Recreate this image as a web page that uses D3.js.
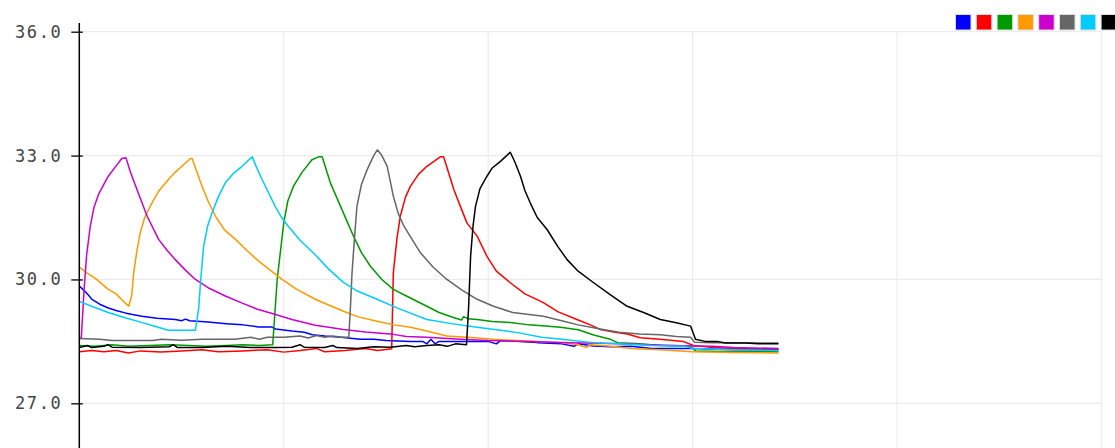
<!DOCTYPE html>
<html lang="en">

<head>
    <meta charset="UTF-8">
    <title>Temperature</title>
    <script src="https://d3js.org/d3.v7.min.js"></script>
    <style>
        body { margin: 0; background: #fff; }
        svg { display: block; }
    </style>
</head>

<body>
    <script>
        // tick labels on the y axis
        var yTicks = [27, 30, 33, 36];
        var xTicks = [0, 50, 100, 150, 200, 250];

        var seriesNames = ["1", "2", "3", "4", "5", "6", "7", "8"];
        var seriesColors = ["#0000ff", "#ff0000", "#009900", "#ff9900", "#cc00cc", "#666666", "#00ccff", "#000000"];

        // [time, temperature]
        var blue = [[0, 29.84], [1.5, 29.7], [3.1, 29.52], [5, 29.4], [7.1, 29.31], [9, 29.25], [11.2, 29.19], [13, 29.15], [15.3, 29.11], [19, 29.06], [23.5, 29.03], [25, 29.0], [26, 29.04], [27, 29.0], [31.5, 28.97], [36, 28.93], [40, 28.9], [43.8, 28.85], [47, 28.85], [48, 28.8], [52, 28.75], [55, 28.72], [57, 28.66], [60, 28.63], [64, 28.6], [68.7, 28.55], [72, 28.55], [75, 28.52], [81, 28.5], [84, 28.5], [85, 28.44], [86, 28.55], [87, 28.44], [88, 28.5], [93.2, 28.5], [100, 28.5], [102, 28.44], [103, 28.52], [107.9, 28.5], [112, 28.47], [118, 28.44], [121, 28.38], [122, 28.44], [125.7, 28.39], [130, 28.37], [135, 28.38], [140, 28.33], [150.2, 28.33], [160, 28.3], [171, 28.3]];
        var red = [[0, 28.25], [3, 28.28], [6, 28.25], [9, 28.28], [12, 28.22], [15, 28.27], [20, 28.24], [25, 28.27], [30, 28.3], [34, 28.25], [40, 28.27], [46, 28.3], [50, 28.24], [54, 28.28], [58, 28.33], [60, 28.25], [65, 28.28], [70, 28.33], [73, 28.28], [76.4, 28.32], [76.8, 30.16], [77.7, 31.0], [78.5, 31.53], [79.8, 32.0], [81, 32.26], [83, 32.55], [85, 32.74], [88.3, 32.97], [89.1, 32.97], [91.6, 32.18], [93.2, 31.77], [94.8, 31.37], [97.3, 31.05], [99.7, 30.56], [102, 30.2], [105.4, 29.92], [109, 29.65], [113.5, 29.44], [117, 29.22], [121.7, 29.03], [125, 28.9], [127.4, 28.79], [131, 28.72], [134, 28.68], [137.2, 28.59], [142, 28.55], [147.7, 28.5], [150.2, 28.4], [155, 28.35], [160, 28.33], [171, 28.32]];
        var green = [[0, 28.4], [4, 28.38], [8, 28.42], [12, 28.38], [17, 28.4], [22, 28.42], [27, 28.4], [31, 28.38], [36, 28.4], [40, 28.42], [44, 28.4], [47.3, 28.42], [48.4, 30.0], [50, 31.37], [51, 31.9], [52.4, 32.26], [54.5, 32.6], [56.9, 32.9], [58.5, 32.97], [59.4, 32.97], [61.4, 32.34], [63.9, 31.77], [65.5, 31.4], [67.1, 31.04], [69, 30.65], [71.2, 30.32], [74, 30.0], [76.8, 29.76], [80, 29.6], [85, 29.35], [88, 29.2], [91.5, 29.08], [93.5, 29.02], [94, 29.1], [95, 29.05], [97.3, 29.03], [101, 28.98], [105.4, 28.96], [110, 28.9], [114, 28.87], [117.7, 28.84], [122, 28.78], [126, 28.65], [129.9, 28.55], [131.6, 28.47], [136, 28.45], [142.1, 28.4], [149.5, 28.38], [150.7, 28.27], [160, 28.25], [171, 28.25]];
        var orange = [[0, 30.3], [2, 30.15], [4, 30.02], [7.1, 29.76], [9, 29.65], [11, 29.45], [12.1, 29.35], [12.8, 29.6], [13.3, 30.16], [14.1, 30.7], [14.9, 31.13], [16, 31.5], [17.8, 31.86], [19.5, 32.15], [21.8, 32.42], [23.5, 32.6], [25.1, 32.74], [27.2, 32.93], [27.6, 32.93], [30, 32.26], [31.5, 31.9], [33.3, 31.53], [35.5, 31.2], [38.2, 30.97], [41, 30.7], [43.8, 30.45], [47, 30.2], [49.6, 30.0], [53, 29.77], [57.7, 29.52], [61, 29.38], [64.6, 29.23], [68, 29.1], [72.8, 28.99], [77, 28.9], [81, 28.84], [85, 28.75], [89.9, 28.63], [95, 28.6], [101.3, 28.55], [107, 28.52], [112, 28.5], [117.7, 28.47], [122, 28.42], [124, 28.35], [125, 28.42], [130, 28.38], [135, 28.33], [142.1, 28.3], [150, 28.25], [160, 28.23], [171, 28.22]];
        var magenta = [[0, 28.55], [0.5, 28.6], [1.2, 29.8], [1.8, 30.6], [2.7, 31.3], [3.6, 31.75], [4.7, 32.06], [6, 32.3], [7.1, 32.5], [9, 32.75], [10.4, 32.93], [11.4, 32.95], [12.5, 32.6], [14.4, 32.1], [16.6, 31.53], [19.4, 30.97], [21.5, 30.7], [23.5, 30.48], [26, 30.22], [28.4, 30.0], [31.5, 29.8], [35.7, 29.6], [40, 29.42], [43.8, 29.27], [48, 29.15], [52, 29.03], [57.7, 28.89], [61, 28.84], [64.6, 28.79], [70, 28.73], [76.8, 28.67], [80, 28.62], [85, 28.6], [93.2, 28.55], [100, 28.52], [110, 28.5], [120, 28.47], [130, 28.45], [140, 28.42], [149.5, 28.39], [155, 28.38], [160, 28.35], [171, 28.33]];
        var gray = [[0, 28.57], [5, 28.55], [8, 28.52], [12, 28.52], [18, 28.52], [20, 28.55], [25, 28.53], [30, 28.55], [38, 28.55], [42, 28.6], [44, 28.55], [46, 28.6], [50, 28.6], [54, 28.63], [56, 28.58], [58, 28.64], [60, 28.6], [62, 28.63], [64, 28.6], [65.9, 28.6], [66.3, 29.3], [66.7, 30.16], [67.3, 31.0], [67.9, 31.77], [69, 32.3], [70.4, 32.66], [72, 33.0], [72.9, 33.14], [74, 33.0], [75.3, 32.74], [76.8, 32.02], [78, 31.6], [79.4, 31.29], [81.5, 30.95], [83.4, 30.65], [86.5, 30.3], [89.9, 30.0], [93.5, 29.75], [97.3, 29.52], [101.3, 29.35], [106, 29.2], [110, 29.15], [113.5, 29.11], [118, 29.0], [122, 28.9], [127.4, 28.8], [132, 28.72], [137, 28.68], [142.1, 28.66], [146, 28.62], [149.5, 28.6], [150.5, 28.48], [155, 28.47], [160, 28.47], [171, 28.46]];
        var cyan = [[0, 29.47], [3, 29.35], [7.1, 29.2], [11, 29.08], [15.2, 28.96], [18, 28.88], [21.8, 28.77], [25, 28.77], [28.4, 28.77], [29.2, 29.3], [29.7, 30.0], [30.4, 30.8], [31.4, 31.3], [32.5, 31.62], [34, 32.0], [35.7, 32.34], [37.5, 32.55], [39.8, 32.74], [41.5, 32.9], [42.3, 32.97], [43.2, 32.75], [44.7, 32.42], [46.3, 32.1], [47.9, 31.77], [49.5, 31.5], [51.1, 31.29], [54, 30.95], [57.7, 30.6], [61, 30.25], [64.6, 29.93], [68, 29.72], [72.8, 29.52], [78, 29.3], [85, 29.03], [91, 28.93], [97.3, 28.84], [103, 28.77], [107.9, 28.7], [113, 28.6], [118, 28.55], [125.7, 28.47], [132, 28.44], [140, 28.4], [148, 28.38], [150.2, 28.33], [160, 28.3], [171, 28.28]];
        var black = [[0, 28.35], [2, 28.4], [3, 28.35], [6, 28.38], [7, 28.42], [8, 28.36], [15, 28.35], [22, 28.37], [23, 28.42], [24, 28.35], [30, 28.35], [36, 28.38], [42, 28.35], [48, 28.35], [52, 28.36], [54, 28.42], [55, 28.36], [60, 28.35], [62, 28.4], [63, 28.35], [68, 28.33], [72, 28.37], [76, 28.36], [80, 28.4], [82, 28.37], [85, 28.4], [88, 28.42], [90, 28.38], [92, 28.44], [94.7, 28.42], [95.2, 29.3], [95.7, 30.56], [96.3, 31.3], [96.9, 31.77], [98, 32.2], [99.7, 32.5], [101, 32.7], [103, 32.86], [105.4, 33.08], [106.5, 32.85], [107.9, 32.5], [109, 32.15], [110.3, 31.85], [112, 31.5], [114.4, 31.21], [117, 30.8], [119.3, 30.48], [122, 30.2], [125.8, 29.92], [130, 29.62], [134, 29.35], [138, 29.2], [142.1, 29.03], [146, 28.95], [149.5, 28.87], [150.7, 28.55], [153, 28.5], [156, 28.5], [158, 28.46], [163, 28.46], [166, 28.44], [171, 28.44]];

        var seriesData = [blue, red, green, orange, magenta, gray, cyan, black];

        var width = 1115;
        var height = 448;

        var svg = d3.select("body").append("svg")
            .attr("width", width)
            .attr("height", height);

        var xScale = d3.scaleLinear()
            .domain([0, 250])
            .range([79.3, 1101.5]);

        var yScale = d3.scaleLinear()
            .domain([24, 36])
            .range([527.2, 31.7]);

        // grid
        var grid = svg.append("g").attr("class", "grid");
        grid.selectAll("line.h")
            .data(yTicks)
            .enter()
            .append("line")
            .attr("x1", xScale(0))
            .attr("x2", xScale(250))
            .attr("y1", (d) => yScale(d))
            .attr("y2", (d) => yScale(d))
            .attr("stroke", "#ececec")
            .attr("stroke-width", 1.2);
        grid.selectAll("line.v")
            .data(xTicks.slice(1))
            .enter()
            .append("line")
            .attr("x1", (d) => xScale(d))
            .attr("x2", (d) => xScale(d))
            .attr("y1", yScale(36))
            .attr("y2", height + 10)
            .attr("stroke", "#ececec")
            .attr("stroke-width", 1.2);

        // lines
        var line = d3.line()
            .x((d) => xScale(d[0]))
            .y((d) => yScale(d[1]));

        svg.append("g")
            .selectAll("path")
            .data(seriesData)
            .enter()
            .append("path")
            .attr("d", line)
            .attr("fill", "none")
            .attr("stroke", (d, i) => seriesColors[i])
            .attr("stroke-width", 1.5)
            .attr("stroke-linejoin", "round");

        // y axis
        var yaxis = d3.axisLeft(yScale)
            .tickValues(yTicks)
            .tickSize(8)
            .tickSizeOuter(0)
            .tickPadding(9)
            .tickFormat(d3.format(".1f"));

        var gyAxis = svg.append("g")
            .attr("transform", "translate(" + xScale(0) + ",0)")
            .call(yaxis);

        gyAxis.select(".domain").remove();
        gyAxis.append("line")
            .attr("x1", 0).attr("x2", 0)
            .attr("y1", 23).attr("y2", height + 10)
            .attr("stroke", "#000")
            .attr("stroke-width", 1.5);
        gyAxis.selectAll(".tick line")
            .attr("x1", 3.5)
            .attr("stroke", "#000")
            .attr("stroke-width", 1.3);
        gyAxis.selectAll(".tick text")
            .attr("font-family", "'DejaVu Sans Mono', monospace")
            .attr("font-size", 17)
            .attr("letter-spacing", 1.6)
            .attr("fill", "#444");

        // legend
        svg.append("g")
            .selectAll("rect")
            .data(seriesNames)
            .enter()
            .append("rect")
            .attr("x", (d, i) => 955.5 + i * 20.8)
            .attr("y", 14.5)
            .attr("width", 15.5)
            .attr("height", 15.5)
            .attr("fill", (d, i) => seriesColors[i])
            .attr("stroke", "#ddd")
            .attr("stroke-width", 1)
            .append("title")
            .text((d) => d);
    </script>
</body>

</html>
